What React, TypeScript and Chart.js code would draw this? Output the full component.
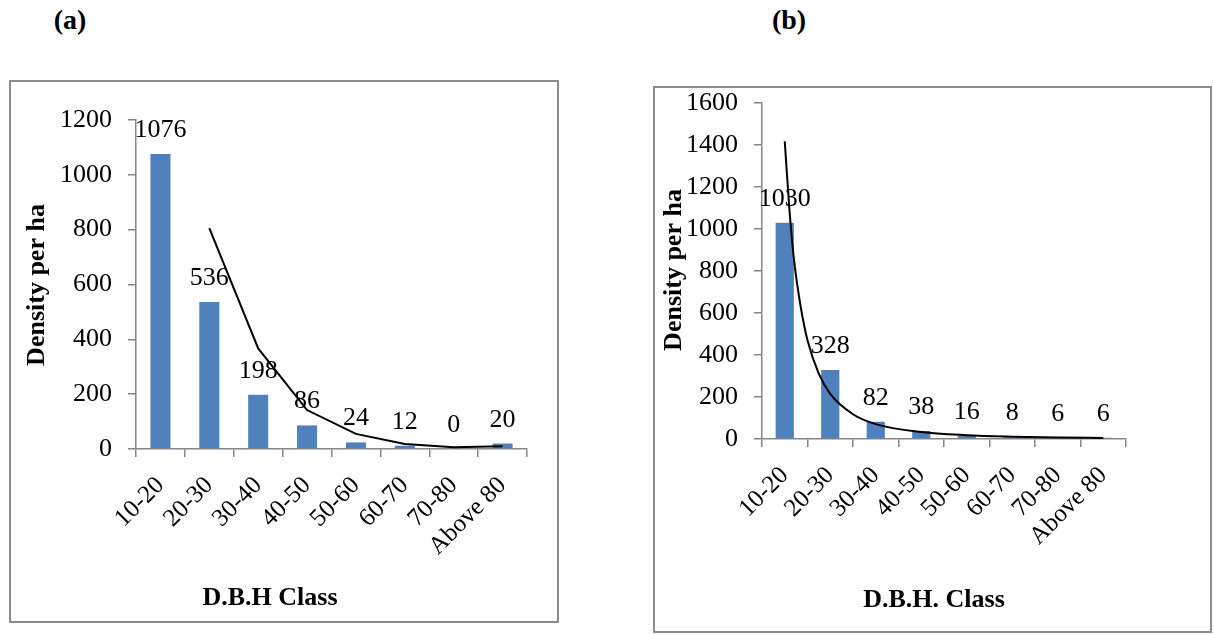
import React, { useEffect, useRef } from "react";
import { Chart, registerables } from "chart.js";
Chart.register(...registerables);

// ---------- data ----------
const categories = ["10-20", "20-30", "30-40", "40-50", "50-60", "60-70", "70-80", "Above 80"];
const densityA = [1076, 536, 198, 86, 24, 12, 0, 20];
const trendA = [null, 806, 367, 142, 55, 18, 6, 10];
const densityB = [1030, 328, 82, 38, 16, 8, 6, 6];
// power trend line of (b), read at class positions (1 = first class)
const trendBPos = [1, 1.1, 1.2, 1.35, 1.5, 1.75, 2, 2.5, 3, 4, 5, 6, 7, 8];
const trendBVal = [1418, 1100, 860, 630, 470, 310, 215, 118, 71, 33, 18, 11, 7, 5];
const yMaxA = 1200;
const yMaxB = 1600;
const yStep = 200;
const panelTitles = ["(a)", "(b)"];
const xTitles = ["D.B.H Class", "D.B.H. Class"];
const yTitle = "Density per ha";

const SERIF = "'Liberation Serif', 'Times New Roman', serif";
const BAR = "#4F81BD";
const AXIS = "#868686";

const annotate = {
  id: "annotate",
  afterDatasetsDraw(chart: any, _args: any, opts: any) {
    const ctx = chart.ctx;
    const meta = chart.getDatasetMeta(0);
    const vals = chart.data.datasets[0].data;
    ctx.save();
    ctx.fillStyle = "#000";
    ctx.font = `26px ${SERIF}`;
    ctx.textAlign = "center";
    ctx.textBaseline = "alphabetic";
    meta.data.forEach((el: any, i: number) => {
      ctx.fillText(String(vals[i]), el.x, el.y - 17);
    });
    ctx.font = `bold 26px ${SERIF}`;
    ctx.textBaseline = "middle";
    ctx.fillText(opts.xTitle, opts.xTitleX, opts.xTitleY);
    ctx.translate(opts.yTitleX, opts.yTitleY);
    ctx.rotate(-Math.PI / 2);
    ctx.fillText(opts.yTitle, 0, 0);
    ctx.restore();
  },
};

function makeConfig(p: any): any {
  const datasets: any[] = [
    {
      type: "bar",
      data: p.bars,
      backgroundColor: BAR,
      barPercentage: p.barPct,
      categoryPercentage: 1,
      order: 1,
    },
    p.trend,
  ];
  const scales: any = {
    x: {
      type: "category",
      afterFit: (s: any) => { s.height = p.xHeight; },
      grid: { display: true, drawOnChartArea: false, drawTicks: true, tickLength: 8, color: AXIS, lineWidth: 1.5, offset: true },
      border: { color: AXIS, width: 1.5 },
      ticks: {
        autoSkip: false,
        maxRotation: 45,
        minRotation: 45,
        color: "#000",
        padding: 14,
        font: { family: SERIF, size: 25 },
      },
    },
    y: {
      min: 0,
      max: p.yMax,
      afterFit: (s: any) => {
        s.width = p.yWidth;
        s.paddingTop = 0;
        s.paddingBottom = 0;
      },
      grid: { display: true, drawOnChartArea: false, drawTicks: true, tickLength: 8, color: AXIS, lineWidth: 1.5 },
      border: { color: AXIS, width: 1.5 },
      ticks: {
        stepSize: yStep,
        color: "#000",
        padding: 16,
        font: { family: SERIF, size: 26 },
        callback: (v: any) => String(v),
      },
    },
  };
  return {
    type: "bar",
    data: { labels: categories, datasets },
    options: {
      responsive: false,
      animation: false,
      devicePixelRatio: 1,
      layout: { padding: { top: p.top, right: p.right, left: 0, bottom: 0 } },
      plugins: {
        legend: { display: false },
        tooltip: { enabled: false },
        annotate: p.titles,
      },
      scales,
    },
    plugins: [annotate],
  };
}

function ChartBox(props: { left: number; top: number; width: number; height: number; config: any }) {
  const ref = useRef<HTMLCanvasElement>(null);
  useEffect(() => {
    const chart = new Chart(ref.current as HTMLCanvasElement, props.config);
    return () => chart.destroy();
  }, []);
  const { left, top, width, height } = props;
  return (
    <div style={{ position: "absolute", left, top, width, height }}>
      <canvas ref={ref} width={width} height={height} style={{ display: "block", width, height }} />
      <div
        style={{
          position: "absolute",
          left: 0,
          top: 0,
          width,
          height,
          border: "2px solid #8c8c8c",
          boxSizing: "border-box",
          pointerEvents: "none",
        }}
      />
    </div>
  );
}

const configA = makeConfig({
  bars: densityA,
  barPct: 0.41,
  yMax: yMaxA,
  yWidth: 127,
  xHeight: 174,
  top: 40,
  right: 32,
  trend: {
    type: "line",
    data: trendA,
    borderColor: "#000",
    borderWidth: 2,
    pointRadius: 0,
    tension: 0,
    fill: false,
    order: 0,
  },
  titles: { xTitle: xTitles[0], xTitleX: 261, xTitleY: 518, yTitle, yTitleX: 28, yTitleY: 205 },
});

const configB = makeConfig({
  bars: densityB,
  barPct: 0.4,
  yMax: yMaxB,
  yWidth: 109,
  xHeight: 194,
  top: 17,
  right: 86,
  trend: {
    type: "line",
    parsing: false,
    // category scale internal value = class index (0-based)
    data: trendBPos.map((k, i) => ({ x: k - 1, y: trendBVal[i] })),
    borderColor: "#000",
    borderWidth: 2,
    pointRadius: 0,
    cubicInterpolationMode: "monotone",
    fill: false,
    order: 0,
  },
  titles: { xTitle: xTitles[1], xTitleX: 281, xTitleY: 514, yTitle, yTitleX: 21, yTitleY: 184 },
});

export default function App() {
  const head = (text: string, cx: number) => (
    <div
      style={{
        position: "absolute",
        left: cx - 50,
        top: 5,
        width: 100,
        textAlign: "center",
        fontFamily: SERIF,
        fontWeight: "bold",
        fontSize: 28,
        lineHeight: "30px",
        color: "#000",
      }}
    >
      {text}
    </div>
  );
  return (
    <div style={{ position: "fixed", left: 0, top: 0, width: 1214, height: 634, background: "#fff", overflow: "hidden" }}>
      {head(panelTitles[0], 70)}
      {head(panelTitles[1], 789)}
      <ChartBox left={9} top={80} width={550} height={543} config={configA} />
      <ChartBox left={653} top={86} width={559} height={547} config={configB} />
    </div>
  );
}
